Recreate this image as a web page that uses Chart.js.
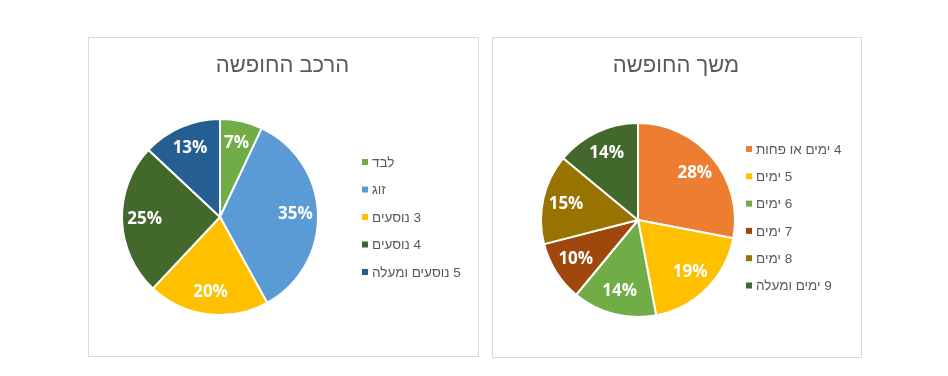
<!DOCTYPE html>
<html>
<head>
<meta charset="utf-8">
<script src="https://cdn.jsdelivr.net/npm/chart.js@4"></script>
<style>
  body { margin: 0; background: #fff; width: 948px; height: 376px; position: relative; overflow: hidden; }
  .panel { position: absolute; border: 1px solid #d9d9d9; background: #fff; }
  .panel canvas { display: block; }
</style>
</head>
<body>
<div class="panel" style="left:88px; top:37px; width:389px; height:318px;">
  <canvas id="groupChart" width="389" height="318"></canvas>
</div>
<div class="panel" style="left:492px; top:37px; width:368px; height:319px;">
  <canvas id="lengthChart" width="368" height="319"></canvas>
</div>
<script>
// הרכב החופשה
const groupTitle = 'הרכב החופשה';
const groupLabels = ['לבד', 'זוג', '3 נוסעים', '4 נוסעים', '5 נוסעים ומעלה'];
const groupValues = [7, 35, 20, 25, 13];
const groupColors = ['#70AD47', '#5B9BD5', '#FFC000', '#43682B', '#255E91'];

// משך החופשה
const lengthTitle = 'משך החופשה';
const lengthLabels = ['4 ימים או פחות', '5 ימים', '6 ימים', '7 ימים', '8 ימים', '9 ימים ומעלה'];
const lengthValues = [28, 19, 14, 10, 15, 14];
const lengthColors = ['#ED7D31', '#FFC000', '#70AD47', '#9E480E', '#997300', '#43682B'];

// percent labels inside the slices
const sliceText = {
    id: 'sliceText',
    afterDatasetsDraw(chart, args, opts) {
        const ctx = chart.ctx;
        const values = chart.data.datasets[0].data;
        ctx.save();
        ctx.font = 'bold 17px "Open Sans", sans-serif';
        ctx.fillStyle = '#fff';
        ctx.textAlign = 'center';
        ctx.textBaseline = 'middle';
        chart.getDatasetMeta(0).data.forEach(function(arc, i) {
            const p = arc.getProps(['x', 'y', 'startAngle', 'endAngle', 'outerRadius']);
            const mid = (p.startAngle + p.endAngle) / 2;
            const r = p.outerRadius * opts.at;
            ctx.fillText(values[i] + '%', p.x + Math.cos(mid) * r, p.y + Math.sin(mid) * r);
        });
        ctx.restore();
    }
};

// title + legend on the right, excel style
const sideText = {
    id: 'sideText',
    afterDraw(chart, args, opts) {
        const ctx = chart.ctx;
        const ds = chart.data.datasets[0];
        ctx.save();
        ctx.direction = 'rtl';
        ctx.fillStyle = '#595959';
        ctx.font = '22px "Liberation Sans", Arial, sans-serif';
        ctx.textAlign = 'center';
        ctx.textBaseline = 'middle';
        ctx.fillText(opts.title, chart.width / 2 - 1, opts.titleY);

        ctx.font = '13.5px "Liberation Sans", Arial, sans-serif';
        ctx.textAlign = 'left';
        chart.data.labels.forEach(function(label, i) {
            const y = opts.legendY + i * opts.legendGap;
            ctx.fillStyle = ds.backgroundColor[i];
            ctx.fillRect(opts.legendX, y - 3, 6, 6);
            ctx.fillStyle = '#595959';
            ctx.fillText(label, opts.legendX + 10, y + 1);
        });
        ctx.restore();
    }
};

function makePie(id, labels, values, colors, padding, textOpts, labelAt) {
    const c = document.getElementById(id).getContext('2d');
    return new Chart(c, {
        type: 'pie',
        data: {
            labels: labels,
            datasets: [{
                data: values,
                backgroundColor: colors,
                borderColor: '#fff',
                borderWidth: 2,
                hoverOffset: 0
            }]
        },
        options: {
            responsive: false,
            animation: false,
            events: [],
            layout: { padding: padding },
            plugins: {
                legend: { display: false },
                title: { display: false },
                tooltip: { enabled: false },
                sideText: textOpts,
                sliceText: { at: labelAt }
            }
        },
        plugins: [sliceText, sideText]
    });
}

makePie('groupChart', groupLabels, groupValues, groupColors,
    { left: 32, top: 80, right: 159, bottom: 40 },
    { title: groupTitle, titleY: 28, legendX: 273, legendY: 124, legendGap: 27.5 },
    0.77);

makePie('lengthChart', lengthLabels, lengthValues, lengthColors,
    { left: 47, top: 84, right: 125, bottom: 39 },
    { title: lengthTitle, titleY: 28, legendX: 253, legendY: 111, legendGap: 27.3 },
    0.76);
</script>
</body>
</html>
